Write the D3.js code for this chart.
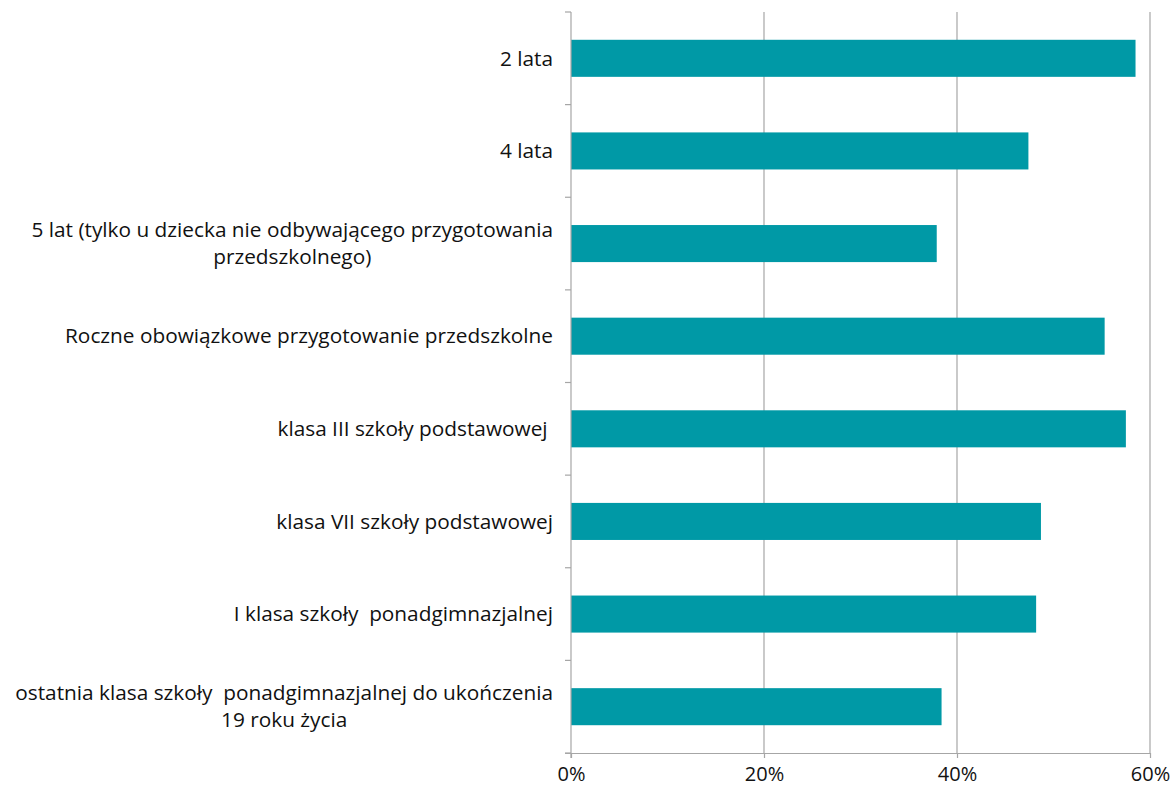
<!DOCTYPE html>
<html>
<head>
<meta charset="utf-8">
<script src="https://cdn.jsdelivr.net/npm/d3@7"></script>
<style>
  body { margin: 0; background: #fff; }
  text { font-family: "Open Sans", sans-serif; fill: #111; }
</style>
</head>
<body>
<svg id="chart" width="1172" height="789"></svg>
<script>
// categories, top to bottom; "\n" marks a line break in the label
const categories = [
    "2 lata",
    "4 lata",
    "5 lat (tylko u dziecka nie odbywającego przygotowania\nprzedszkolnego)",
    "Roczne obowiązkowe przygotowanie przedszkolne",
    "klasa III szkoły podstawowej ",
    "klasa VII szkoły podstawowej",
    "I klasa szkoły  ponadgimnazjalnej",
    "ostatnia klasa szkoły  ponadgimnazjalnej do ukończenia\n19 roku życia"
];
const values = [0.585, 0.474, 0.379, 0.553, 0.575, 0.487, 0.482, 0.384];
const xTicks = [0, 0.2, 0.4, 0.6];

const svg = d3.select("#chart");
const margin = {left: 571, right: 22, top: 12, bottom: 36};
const width = 1172, height = 789;

const x = d3.scaleLinear().domain([0, 0.6]).range([margin.left, width - margin.right]);
const y = d3.scaleBand().domain(categories).range([margin.top, height - margin.bottom]).paddingInner(0.6).paddingOuter(0.3);

const gridColor = "#a6a6a6";

// vertical gridlines
svg.append("g")
    .selectAll("line")
    .data(xTicks.slice(1))
    .join("line")
    .attr("x1", d => x(d)).attr("x2", d => x(d))
    .attr("y1", margin.top).attr("y2", height - margin.bottom)
    .attr("stroke", gridColor).attr("stroke-width", 1.2);

// bars
svg.append("g")
    .selectAll("rect")
    .data(values)
    .join("rect")
    .attr("x", x(0))
    .attr("y", (d, i) => y(categories[i]))
    .attr("width", d => x(d) - x(0))
    .attr("height", y.bandwidth())
    .attr("fill", "#0099a6");

// bottom axis
const xAxis = svg.append("g")
    .attr("transform", `translate(0,${height - margin.bottom})`)
    .call(d3.axisBottom(x).tickValues(xTicks).tickFormat(d3.format(".0%")).tickSize(5).tickSizeOuter(0).tickPadding(9));
xAxis.select(".domain").attr("stroke", gridColor).attr("stroke-width", 1.2)
    .attr("d", `M${x(0) - 6},0.5H${x(0.6)}`);
xAxis.selectAll(".tick line").attr("stroke", gridColor).attr("stroke-width", 1.2);
xAxis.selectAll(".tick text").style("font-size", "20px").style("font-family", "'Open Sans', sans-serif").attr("fill", "#111");

// left axis with category boundary ticks
const yAxisG = svg.append("g");
yAxisG.append("line")
    .attr("x1", x(0)).attr("x2", x(0))
    .attr("y1", margin.top).attr("y2", height - margin.bottom + 5)
    .attr("stroke", gridColor).attr("stroke-width", 1.2);
const bounds = d3.range(categories.length + 1).map(i => margin.top + i * (height - margin.top - margin.bottom) / categories.length);
yAxisG.selectAll("line.tk")
    .data(bounds)
    .join("line")
    .attr("class", "tk")
    .attr("x1", x(0) - 6).attr("x2", x(0))
    .attr("y1", d => d).attr("y2", d => d)
    .attr("stroke", gridColor).attr("stroke-width", 1.2);

// category labels (wrapped lines centered on each other, block right-aligned)
const labelRight = x(0) - 18;
const lineH = 27;
categories.forEach(cat => {
    const lines = cat.split("\n");
    const t = svg.append("text").style("font-size", "20.8px").attr("text-anchor", "middle");
    const cy = y(cat) + y.bandwidth() / 2;
    lines.forEach((ln, j) => {
        t.append("tspan")
            .attr("x", 0)
            .attr("y", cy + (j - (lines.length - 1) / 2) * lineH)
            .attr("dy", "0.35em")
            .style("white-space", "pre")
            .text(ln);
    });
    const w = t.node().getBBox().width;
    t.selectAll("tspan").attr("x", labelRight - w / 2);
});
</script>
</body>
</html>
